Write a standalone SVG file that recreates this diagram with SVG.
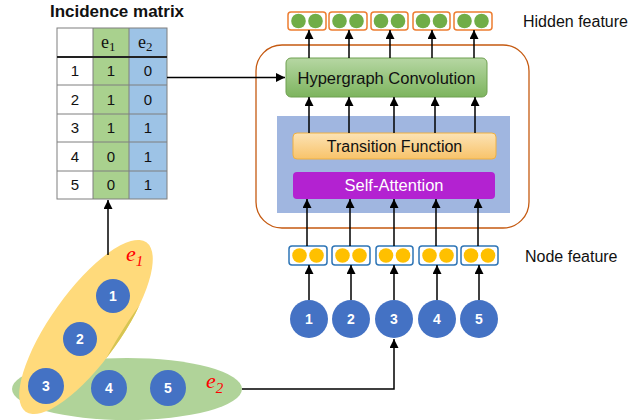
<svg xmlns="http://www.w3.org/2000/svg" width="633" height="420" viewBox="0 0 633 420">
<defs>
<style>
.lbl{font-family:"Liberation Sans",Arial,sans-serif;fill:#111}
.cell{font-family:"Liberation Sans",Arial,sans-serif;font-size:15px;fill:#111;text-anchor:middle}
.node{fill:#4472C4}
.nt{font-family:"Liberation Sans",Arial,sans-serif;font-size:14px;font-weight:bold;fill:#fff;text-anchor:middle}
.conn{stroke:#000;stroke-width:1.5;fill:none}
.hbox{fill:#fff;stroke:#ED7D31;stroke-width:1.5}
.fbox{fill:#fff;stroke:#2E75B6;stroke-width:1.5}
.gdot{fill:#70AD47}
.ydot{fill:#FFC000}
.tl{stroke:#7F7F7F;stroke-width:1}
.ei{font-family:"Liberation Serif","DejaVu Serif",serif;font-style:italic;fill:#FF0000}
.hd{font-family:"Liberation Serif","DejaVu Serif",serif;font-size:18px;fill:#111}
</style>
<marker id="arr" viewBox="0 0 10 10" refX="10" refY="5" markerWidth="6" markerHeight="6" orient="auto">
<path d="M0,0 L10,5 L0,10 z" fill="#000"/>
</marker>
<linearGradient id="gHC" x1="0" y1="0" x2="0" y2="1">
<stop offset="0" stop-color="#B6D7A3"/>
<stop offset="1" stop-color="#7DB45E"/>
</linearGradient>
<linearGradient id="gTF" x1="0" y1="0" x2="0" y2="1">
<stop offset="0" stop-color="#FCE3B5"/>
<stop offset="1" stop-color="#F8C36A"/>
</linearGradient>
<clipPath id="e2clip"><ellipse cx="127" cy="389" rx="115" ry="31"/></clipPath>
</defs>

<!-- Incidence matrix -->
<g id="matrix">
<text x="117" y="17" class="lbl" font-size="17" font-weight="bold" text-anchor="middle">Incidence matrix</text>
<rect x="57" y="28" width="36" height="171" fill="#fff"/>
<rect x="93" y="28" width="36" height="171" fill="#A9D18E"/>
<rect x="129" y="28" width="38" height="171" fill="#9DC3E6"/>
<rect x="57" y="28" width="110" height="171" fill="none" class="tl"/>
<line x1="93" y1="28" x2="93" y2="199" class="tl"/>
<line x1="129" y1="28" x2="129" y2="199" class="tl"/>
<line x1="57" y1="57" x2="167" y2="57" stroke="#222" stroke-width="2"/>
<line x1="57" y1="85" x2="167" y2="85" class="tl"/>
<line x1="57" y1="114" x2="167" y2="114" class="tl"/>
<line x1="57" y1="142" x2="167" y2="142" class="tl"/>
<line x1="57" y1="171" x2="167" y2="171" class="tl"/>
<text x="101" y="48" class="hd">e<tspan font-size="13" dy="3">1</tspan></text>
<text x="138" y="48" class="hd">e<tspan font-size="13" dy="3">2</tspan></text>
<text x="75" y="76" class="cell">1</text><text x="111" y="76" class="cell">1</text><text x="148" y="76" class="cell">0</text>
<text x="75" y="105" class="cell">2</text><text x="111" y="105" class="cell">1</text><text x="148" y="105" class="cell">0</text>
<text x="75" y="133" class="cell">3</text><text x="111" y="133" class="cell">1</text><text x="148" y="133" class="cell">1</text>
<text x="75" y="162" class="cell">4</text><text x="111" y="162" class="cell">0</text><text x="148" y="162" class="cell">1</text>
<text x="75" y="190" class="cell">5</text><text x="111" y="190" class="cell">0</text><text x="148" y="190" class="cell">1</text>
</g>

<!-- Hypergraph -->
<g id="hyperedge-e2">
<ellipse cx="127" cy="389" rx="115" ry="31" fill="#B0D399"/>
</g>
<g id="hyperedge-e1">
<ellipse cx="86" cy="327" rx="104" ry="35" transform="rotate(-54.5 86 327)" fill="#FFDA7B"/>
<ellipse cx="86" cy="327" rx="104" ry="35" transform="rotate(-54.5 86 327)" fill="#D6C553" clip-path="url(#e2clip)"/>
<text x="126" y="261" class="ei" font-size="22">e<tspan font-size="15" dy="5">1</tspan></text>
<text x="206" y="388" class="ei" font-size="22">e<tspan font-size="15" dy="5">2</tspan></text>
</g>
<g id="hg-node-1"><circle cx="113" cy="296" r="17" class="node"/><text x="113" y="301" class="nt">1</text></g>
<g id="hg-node-2"><circle cx="80" cy="339" r="17" class="node"/><text x="80" y="344" class="nt">2</text></g>
<g id="hg-node-3"><circle cx="46" cy="386" r="18" class="node"/><text x="46" y="391" class="nt">3</text></g>
<g id="hg-node-4"><circle cx="109" cy="388" r="18" class="node"/><text x="109" y="393" class="nt">4</text></g>
<g id="hg-node-5"><circle cx="168" cy="388" r="18" class="node"/><text x="168" y="393" class="nt">5</text></g>

<!-- Model -->
<g id="model">
<rect x="256" y="45" width="273" height="183" rx="26" fill="none" stroke="#C55A11" stroke-width="1.3"/>
</g>
<g id="attention-block">
<rect x="277" y="116" width="233" height="97" fill="#A0B6E0"/>
</g>
<g id="hypergraph-conv">
<rect x="286" y="58" width="201" height="39" rx="5" fill="url(#gHC)" stroke="#6FA050" stroke-width="1"/>
<text x="386.5" y="83.5" class="lbl" font-size="16.5" text-anchor="middle">Hypergraph Convolution</text>
</g>
<g id="transition-function">
<rect x="293" y="133" width="203" height="26" rx="4" fill="url(#gTF)" stroke="#EEB043" stroke-width="1"/>
<text x="394.5" y="152" class="lbl" font-size="16" text-anchor="middle">Transition Function</text>
</g>
<g id="self-attention">
<rect x="293" y="172" width="202" height="27" rx="4" fill="#B322D1"/>
<text x="394" y="191" class="lbl" font-size="16.5" text-anchor="middle" style="fill:#fff">Self-Attention</text>
</g>

<g id="hidden-features">
<rect x="288" y="12" width="38" height="18" rx="3" class="hbox"/><circle cx="298.5" cy="21" r="7.3" class="gdot"/><circle cx="315.5" cy="21" r="7.3" class="gdot"/>
<rect x="329" y="12" width="38" height="18" rx="3" class="hbox"/><circle cx="339.5" cy="21" r="7.3" class="gdot"/><circle cx="356.5" cy="21" r="7.3" class="gdot"/>
<rect x="371" y="12" width="37" height="18" rx="3" class="hbox"/><circle cx="381" cy="21" r="7.3" class="gdot"/><circle cx="398" cy="21" r="7.3" class="gdot"/>
<rect x="413" y="12" width="37" height="18" rx="3" class="hbox"/><circle cx="423" cy="21" r="7.3" class="gdot"/><circle cx="440" cy="21" r="7.3" class="gdot"/>
<rect x="454" y="12" width="38" height="18" rx="3" class="hbox"/><circle cx="464.5" cy="21" r="7.3" class="gdot"/><circle cx="481.5" cy="21" r="7.3" class="gdot"/>
<text x="523" y="27" class="lbl" font-size="16">Hidden feature</text>
</g>

<g id="node-features">
<rect x="289" y="246" width="38" height="19" rx="3" class="fbox"/><circle cx="299.5" cy="255.5" r="7.3" class="ydot"/><circle cx="316.5" cy="255.5" r="7.3" class="ydot"/>
<rect x="332" y="246" width="38" height="19" rx="3" class="fbox"/><circle cx="342.5" cy="255.5" r="7.3" class="ydot"/><circle cx="359.5" cy="255.5" r="7.3" class="ydot"/>
<rect x="376" y="246" width="37" height="19" rx="3" class="fbox"/><circle cx="386" cy="255.5" r="7.3" class="ydot"/><circle cx="403" cy="255.5" r="7.3" class="ydot"/>
<rect x="419" y="246" width="38" height="19" rx="3" class="fbox"/><circle cx="429.5" cy="255.5" r="7.3" class="ydot"/><circle cx="446.5" cy="255.5" r="7.3" class="ydot"/>
<rect x="461" y="246" width="37" height="19" rx="3" class="fbox"/><circle cx="471" cy="255.5" r="7.3" class="ydot"/><circle cx="488" cy="255.5" r="7.3" class="ydot"/>
<text x="525" y="262" class="lbl" font-size="16">Node feature</text>
</g>

<g id="node-1"><circle cx="309" cy="319" r="19" class="node"/><text x="309" y="324" class="nt">1</text></g>
<g id="node-2"><circle cx="351" cy="319" r="19" class="node"/><text x="351" y="324" class="nt">2</text></g>
<g id="node-3"><circle cx="394" cy="319" r="19" class="node"/><text x="394" y="324" class="nt">3</text></g>
<g id="node-4"><circle cx="437" cy="319" r="19" class="node"/><text x="437" y="324" class="nt">4</text></g>
<g id="node-5"><circle cx="479" cy="319" r="19" class="node"/><text x="479" y="324" class="nt">5</text></g>

<g id="connectors">
<line x1="108" y1="255" x2="108" y2="200" class="conn" marker-end="url(#arr)"/>
<line x1="167" y1="77.5" x2="285" y2="77.5" class="conn" marker-end="url(#arr)"/>
<polyline points="242,389 394,389 394,339" class="conn" marker-end="url(#arr)"/>
<line x1="309" y1="58" x2="309" y2="30" class="conn" marker-end="url(#arr)"/>
<line x1="349" y1="58" x2="349" y2="30" class="conn" marker-end="url(#arr)"/>
<line x1="390" y1="58" x2="390" y2="30" class="conn" marker-end="url(#arr)"/>
<line x1="432" y1="58" x2="432" y2="30" class="conn" marker-end="url(#arr)"/>
<line x1="474" y1="58" x2="474" y2="30" class="conn" marker-end="url(#arr)"/>
<line x1="309" y1="133" x2="309" y2="97" class="conn" marker-end="url(#arr)"/>
<line x1="349" y1="133" x2="349" y2="97" class="conn" marker-end="url(#arr)"/>
<line x1="394" y1="133" x2="394" y2="97" class="conn" marker-end="url(#arr)"/>
<line x1="435" y1="133" x2="435" y2="97" class="conn" marker-end="url(#arr)"/>
<line x1="475" y1="133" x2="475" y2="97" class="conn" marker-end="url(#arr)"/>
<line x1="307" y1="246" x2="307" y2="199" class="conn" marker-end="url(#arr)"/>
<line x1="350" y1="246" x2="350" y2="199" class="conn" marker-end="url(#arr)"/>
<line x1="394" y1="246" x2="394" y2="199" class="conn" marker-end="url(#arr)"/>
<line x1="436" y1="246" x2="436" y2="199" class="conn" marker-end="url(#arr)"/>
<line x1="478" y1="246" x2="478" y2="199" class="conn" marker-end="url(#arr)"/>
<line x1="309" y1="300" x2="309" y2="265" class="conn" marker-end="url(#arr)"/>
<line x1="351" y1="300" x2="351" y2="265" class="conn" marker-end="url(#arr)"/>
<line x1="394" y1="300" x2="394" y2="265" class="conn" marker-end="url(#arr)"/>
<line x1="437" y1="300" x2="437" y2="265" class="conn" marker-end="url(#arr)"/>
<line x1="479" y1="300" x2="479" y2="265" class="conn" marker-end="url(#arr)"/>
</g>
</svg>
